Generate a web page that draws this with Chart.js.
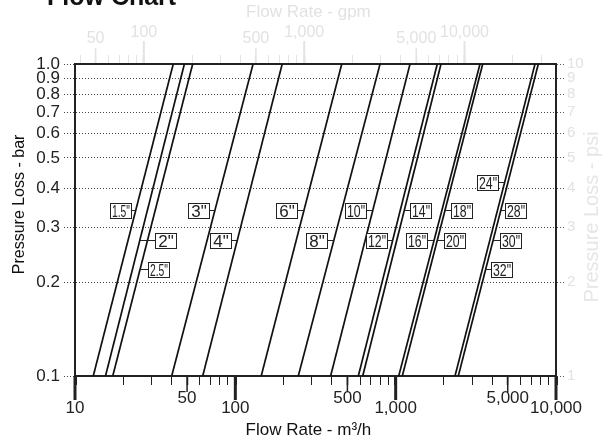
<!DOCTYPE html>
<html><head><meta charset="utf-8">
<script src="https://cdn.jsdelivr.net/npm/chart.js@4/dist/chart.umd.min.js"></script>
<style>html,body{margin:0;padding:0;background:#fff;}#wrap{width:611px;height:441px;position:relative;}</style>
</head><body><div id="wrap"><canvas id="c"></canvas></div>
<script>
// ---- data ----
const lossRange = [0.1, 1.0]; // bar, bottom and top of every pipe line
const lineNames = ['1.5"','2"','2.5"','3"','4"','6"','8"','10"','12"','14"','16"','18"-20"','24"','28"-32"'];
const flowAtMinLoss = [13.0, 15.5, 17.2, 40.1, 62.6, 145, 247, 393, 585, 623, 1045, 1100, 2345, 2459];   // m³/h at 0.1 bar
const flowAtMaxLoss = [41.0, 48.1, 54.2, 129, 196, 461, 799, 1229, 1818, 1918, 3357, 3491, 7396, 7756]; // m³/h at 1.0 bar

const labelTexts = ['1.5"','2"','2.5"','3"','4"','6"','8"','10"','12"','14"','16"','18"','20"','24"','28"','30"','32"'];
const labelLine  = [0, 1, 2, 3, 4, 5, 6, 7, 8, 9, 10, 11, 11, 12, 13, 13, 13];
const labelFlow  = [19.3, 36.8, 33.1, 58.7, 81.2, 210, 322, 562, 762, 1435, 1345, 2563, 2335, 3766, 5615, 5188, 4592];
const labelLoss  = [0.340, 0.273, 0.220, 0.340, 0.273, 0.340, 0.273, 0.340, 0.273, 0.340, 0.273, 0.340, 0.273, 0.4185, 0.340, 0.273, 0.220];

const yTicks = [0.1, 0.2, 0.3, 0.4, 0.5, 0.6, 0.7, 0.8, 0.9, 1.0];
const yTickLabels = ['0.1','0.2','0.3','0.4','0.5','0.6','0.7','0.8','0.9','1.0'];
const psiTicks = [1, 2, 3, 4, 5, 6, 7, 8, 9, 10];
const psiTickLabels = ['1','2','3','4','5','6','7','8','9','10'];
const xLabelValues = [10, 50, 100, 500, 1000, 5000, 10000];
const xLabelTexts = ['10','50','100','500','1,000','5,000','10,000'];
const gpmLabelValues = [50, 100, 500, 1000, 5000, 10000];
const gpmLabelTexts = ['50','100','500','1,000','5,000','10,000'];
const gpmPerM3h = 3.72; // as drawn on the top axis

// ---- helpers ----
const FONT = '"Liberation Sans", Arial, Helvetica, sans-serif';
const NB = '\u00a0';
function decadeTicks(min, max) {
  const out = [];
  for (let e = Math.floor(Math.log10(min)); e <= Math.ceil(Math.log10(max)); e++) {
    for (let m = 1; m <= 9; m++) {
      const v = Math.round(m * Math.pow(10, e) * 1e6) / 1e6;
      if (v >= min - 1e-9 && v <= max + 1e-9) out.push(v);
    }
  }
  return out;
}
function isMajor(v) { const l = Math.log10(v); return Math.abs(l - Math.round(l)) < 1e-9; }
function isMid(v) { const m = v / Math.pow(10, Math.floor(Math.log10(v) + 1e-9)); return Math.abs(m - 5) < 1e-6; }
function tv(c) { return c && c.tick ? c.tick.value : null; }

const overlay = {
  id: 'overlay',
  afterDraw(chart) {
    const ctx = chart.ctx, xs = chart.scales.x, ys = chart.scales.y, xt = chart.scales.xTop, a = chart.chartArea;
    ctx.save();
    // longer tick marks (major / mid) on bottom axis
    ctx.strokeStyle = '#222';
    decadeTicks(xs.min, xs.max).forEach(v => {
      let len = 0, w = 1;
      if (isMajor(v)) { len = 24; w = 3; } else if (isMid(v)) { len = 16; w = 1.5; }
      if (!len) return;
      const px = xs.getPixelForValue(v);
      ctx.lineWidth = w; ctx.beginPath(); ctx.moveTo(px, a.bottom); ctx.lineTo(px, a.bottom + len); ctx.stroke();
    });
    // top axis (gpm) longer ticks
    ctx.strokeStyle = '#e4e4e4';
    decadeTicks(xt.min, xt.max).forEach(v => {
      let len = 0, w = 1;
      if (isMajor(v)) { len = 23; w = 2; } else if (isMid(v)) { len = 16; w = 1.5; }
      if (!len) return;
      const px = xt.getPixelForValue(v);
      ctx.lineWidth = w; ctx.beginPath(); ctx.moveTo(px, a.top - 1); ctx.lineTo(px, a.top - len); ctx.stroke();
    });
    // pipe size labels
    const L0 = Math.log10(lossRange[0]), L1 = Math.log10(lossRange[1]);
    const bw = 21, bh = 15;
    labelTexts.forEach((txt, i) => {
      const li = labelLine[i], p = labelLoss[i];
      const t = (Math.log10(p) - L0) / (L1 - L0);
      const q = Math.pow(10, Math.log10(flowAtMinLoss[li]) + t * (Math.log10(flowAtMaxLoss[li]) - Math.log10(flowAtMinLoss[li])));
      const lx = xs.getPixelForValue(q);
      const py = Math.round(ys.getPixelForValue(p)) + 0.5;
      const bx = xs.getPixelForValue(labelFlow[i]);
      const left = Math.round(bx - bw / 2) + 0.5, top = Math.round(py - bh / 2);
      ctx.strokeStyle = '#222'; ctx.lineWidth = 1;
      ctx.beginPath();
      if (bx < lx) { ctx.moveTo(left + bw, py); ctx.lineTo(lx, py); }
      else { ctx.moveTo(left, py); ctx.lineTo(lx, py); }
      ctx.stroke();
      ctx.fillStyle = '#fff';
      ctx.fillRect(left, top + 0.5, bw, bh);
      ctx.strokeRect(left, top + 0.5, bw, bh);
      ctx.fillStyle = '#222';
      ctx.font = '17px ' + FONT;
      ctx.textAlign = 'center'; ctx.textBaseline = 'middle';
      ctx.fillText(txt, left + bw / 2, py + 1.5, bw - 3);
    });
    // page title (cut off at the top)
    ctx.fillStyle = '#111';
    ctx.font = 'bold 25px ' + FONT;
    ctx.textAlign = 'left'; ctx.textBaseline = 'alphabetic';
    ctx.fillText('Flow Chart', 47, 5);
    // right axis title (reads bottom to top)
    ctx.save();
    ctx.translate(592, 217);
    ctx.rotate(-Math.PI / 2);
    ctx.fillStyle = '#e6e6e6';
    ctx.font = '20px ' + FONT;
    ctx.textAlign = 'center'; ctx.textBaseline = 'middle';
    ctx.fillText('Pressure Loss - psi', 0, 0);
    ctx.restore();
    ctx.restore();
  }
};

new Chart(document.getElementById('c'), {
  type: 'scatter',
  data: {
    datasets: lineNames.map((n, i) => ({
      label: n,
      data: [{x: flowAtMinLoss[i], y: lossRange[0]}, {x: flowAtMaxLoss[i], y: lossRange[1]}],
      showLine: true, borderColor: '#111', borderWidth: 1.7, pointRadius: 0, pointHoverRadius: 0,
      xAxisID: 'x', yAxisID: 'y', fill: false
    }))
  },
  options: {
    responsive: true, maintainAspectRatio: false, animation: false,
    layout: { padding: 0 },
    events: [],
    plugins: { legend: { display: false }, tooltip: { enabled: false }, title: { display: false } },
    scales: {
      x: {
        type: 'logarithmic', position: 'bottom', min: 10, max: 10000,
        afterBuildTicks: s => { s.ticks = decadeTicks(10, 10000).map(v => ({value: v})); },
        afterFit: s => { s.height = 65; },
        grid: { display: true, drawOnChartArea: false, drawTicks: true, tickLength: 9, tickColor: '#222',
                tickWidth: c => { const v = tv(c); return v == null ? 1 : (isMajor(v) ? 3 : (isMid(v) ? 1.5 : 1)); } },
        border: { display: true, color: '#222', width: 2 },
        ticks: {
          autoSkip: false, maxRotation: 0, minRotation: 0, padding: 2, color: '#222',
          font: c => { const v = tv(c); return {family: FONT, size: 17, lineHeight: (v != null && isMajor(v)) ? 2.5 : 1.3}; },
          callback: v => { const i = xLabelValues.indexOf(v); return i >= 0 ? xLabelTexts[i] : ''; }
        },
        title: { display: true, text: 'Flow Rate - m³/h' + NB + NB + NB, color: '#111', font: {family: FONT, size: 17}, padding: {top: 0, bottom: 0} }
      },
      xTop: {
        type: 'logarithmic', position: 'top', min: 10 * gpmPerM3h, max: 10000 * gpmPerM3h,
        afterBuildTicks: s => { s.ticks = decadeTicks(10 * gpmPerM3h, 10000 * gpmPerM3h).map(v => ({value: v})); },
        afterFit: s => { s.height = 64; },
        grid: { display: true, drawOnChartArea: false, drawTicks: true, tickLength: 9, tickColor: '#e4e4e4',
                tickWidth: c => { const v = tv(c); return v == null ? 1 : (isMajor(v) ? 2 : (isMid(v) ? 1.5 : 1)); } },
        border: { display: true, color: '#222', width: 2 },
        ticks: {
          autoSkip: false, maxRotation: 0, minRotation: 0, padding: 2, color: '#e2e2e2',
          font: c => { const v = tv(c); return {family: FONT, size: 16, lineHeight: (v != null && isMajor(v)) ? 2.5 : 1.75}; },
          callback: v => { const i = gpmLabelValues.indexOf(v); return i >= 0 ? gpmLabelTexts[i] : ''; }
        },
        title: { display: true, text: 'Flow Rate - gpm' + NB + NB + NB, color: '#e2e2e2', font: {family: FONT, size: 17}, padding: {top: 2, bottom: 0} }
      },
      y: {
        type: 'logarithmic', position: 'left', min: 0.1, max: 1,
        afterBuildTicks: s => { s.ticks = yTicks.map(v => ({value: v})); },
        afterFit: s => { s.width = 75; },
        grid: { display: true, color: '#444', lineWidth: 1, drawOnChartArea: true, drawTicks: true, tickLength: 11, tickColor: '#444', tickBorderDash: [1, 2] },
        border: { display: true, color: '#222', width: 2, dash: [1, 2] },
        ticks: { autoSkip: false, padding: 4, color: '#222', font: {family: FONT, size: 17}, callback: (v, i) => yTickLabels[i] },
        title: { display: true, text: NB.repeat(7) + 'Pressure Loss - bar', color: '#111', font: {family: FONT, size: 16}, padding: {top: 10, bottom: 0} }
      },
      yR: {
        type: 'logarithmic', position: 'right', min: 1, max: 10,
        afterBuildTicks: s => { s.ticks = psiTicks.map(v => ({value: v})); },
        afterFit: s => { s.width = 55; },
        grid: { display: true, drawOnChartArea: false, drawTicks: true, tickLength: 9, tickColor: '#555', tickBorderDash: [1, 2] },
        border: { display: true, color: '#222', width: 2 },
        ticks: { autoSkip: false, padding: 2, color: '#e2e2e2', font: {family: FONT, size: 15}, callback: (v, i) => psiTickLabels[i] },
        title: { display: false }
      }
    }
  },
  plugins: [overlay]
});
</script>
</body></html>
